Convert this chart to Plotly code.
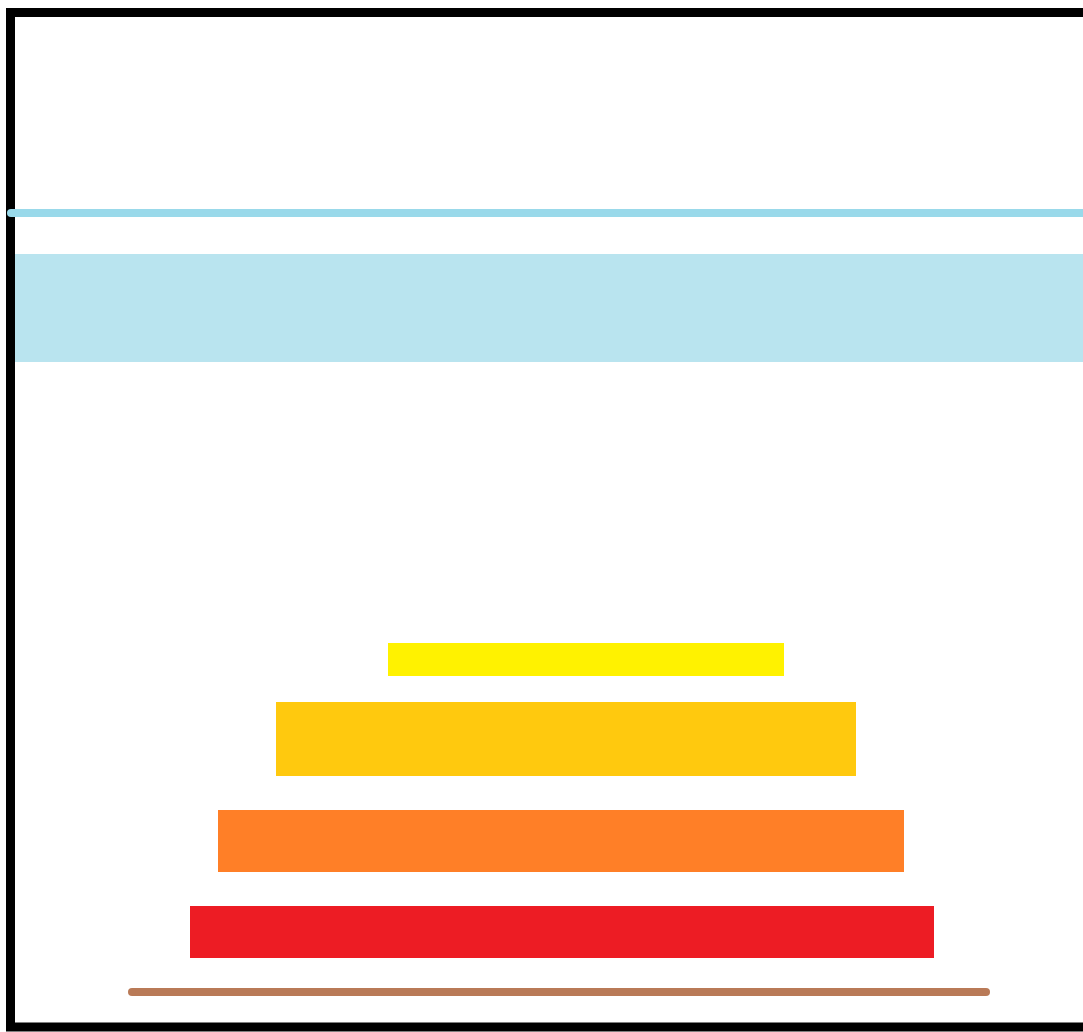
import plotly.graph_objects as go

# Horizontal bars (pyramid), in chart units (x: 0..1083, y: 0..1032 from bottom)
bar_names = ["red", "orange", "gold", "yellow"]
bar_start = [190, 218, 276, 388]
bar_end = [934, 904, 856, 784]
bar_bottom = [74, 160, 256, 356]
bar_top = [126, 222, 330, 389]
bar_colors = ["#ed1c24", "#ff7f27", "#ffc90e", "#fff200"]

# Light blue band
band_start = [10]
band_end = [1120]
band_bottom = [670]
band_top = [778]

# Light blue line (top)
blue_line_x = [11, 1120]
blue_line_y = [819, 819]

# Brown line (bottom)
brown_line_x = [132, 986]
brown_line_y = [40, 40]

# Frame (right side runs off the page)
frame_x = [1120, 10.5, 10.5, 1120]
frame_y = [1019.5, 1019.5, 5, 5]

fig = go.Figure()

# band
fig.add_trace(go.Bar(
    orientation="h",
    y=[(b + t) / 2 for b, t in zip(band_bottom, band_top)],
    x=[e - s for s, e in zip(band_start, band_end)],
    base=band_start,
    width=[t - b for b, t in zip(band_bottom, band_top)],
    marker=dict(color="#b9e4ef", line=dict(width=0)),
    showlegend=False, hoverinfo="skip",
))

# pyramid bars
fig.add_trace(go.Bar(
    orientation="h",
    y=[(b + t) / 2 for b, t in zip(bar_bottom, bar_top)],
    x=[e - s for s, e in zip(bar_start, bar_end)],
    base=bar_start,
    width=[t - b for b, t in zip(bar_bottom, bar_top)],
    marker=dict(color=bar_colors, line=dict(width=0)),
    text=bar_names, textposition="none",
    showlegend=False, hoverinfo="skip",
))

# frame
fig.add_trace(go.Scatter(
    x=frame_x, y=frame_y, mode="lines",
    line=dict(color="#000000", width=9),
    showlegend=False, hoverinfo="skip",
))

# brown line with round ends
fig.add_trace(go.Scatter(
    x=brown_line_x, y=brown_line_y, mode="lines+markers",
    line=dict(color="#b97a57", width=8),
    marker=dict(color="#b97a57", size=8, line=dict(width=0)),
    showlegend=False, hoverinfo="skip",
))

# blue line with round end
fig.add_trace(go.Scatter(
    x=blue_line_x, y=blue_line_y, mode="lines+markers",
    line=dict(color="#99d9ea", width=8),
    marker=dict(color="#99d9ea", size=8, line=dict(width=0)),
    showlegend=False, hoverinfo="skip",
))

fig.update_layout(
    width=1083, height=1032,
    margin=dict(l=0, r=0, t=0, b=0, pad=0),
    paper_bgcolor="#ffffff", plot_bgcolor="#ffffff",
    barmode="overlay", bargap=0,
    xaxis=dict(range=[0, 1083], visible=False, fixedrange=True),
    yaxis=dict(range=[0, 1032], visible=False, fixedrange=True),
)

fig.write_html(
    "out.html",
    config={"displayModeBar": False, "responsive": False},
    post_script="document.body.style.margin='0';document.body.style.overflow='hidden';",
)
